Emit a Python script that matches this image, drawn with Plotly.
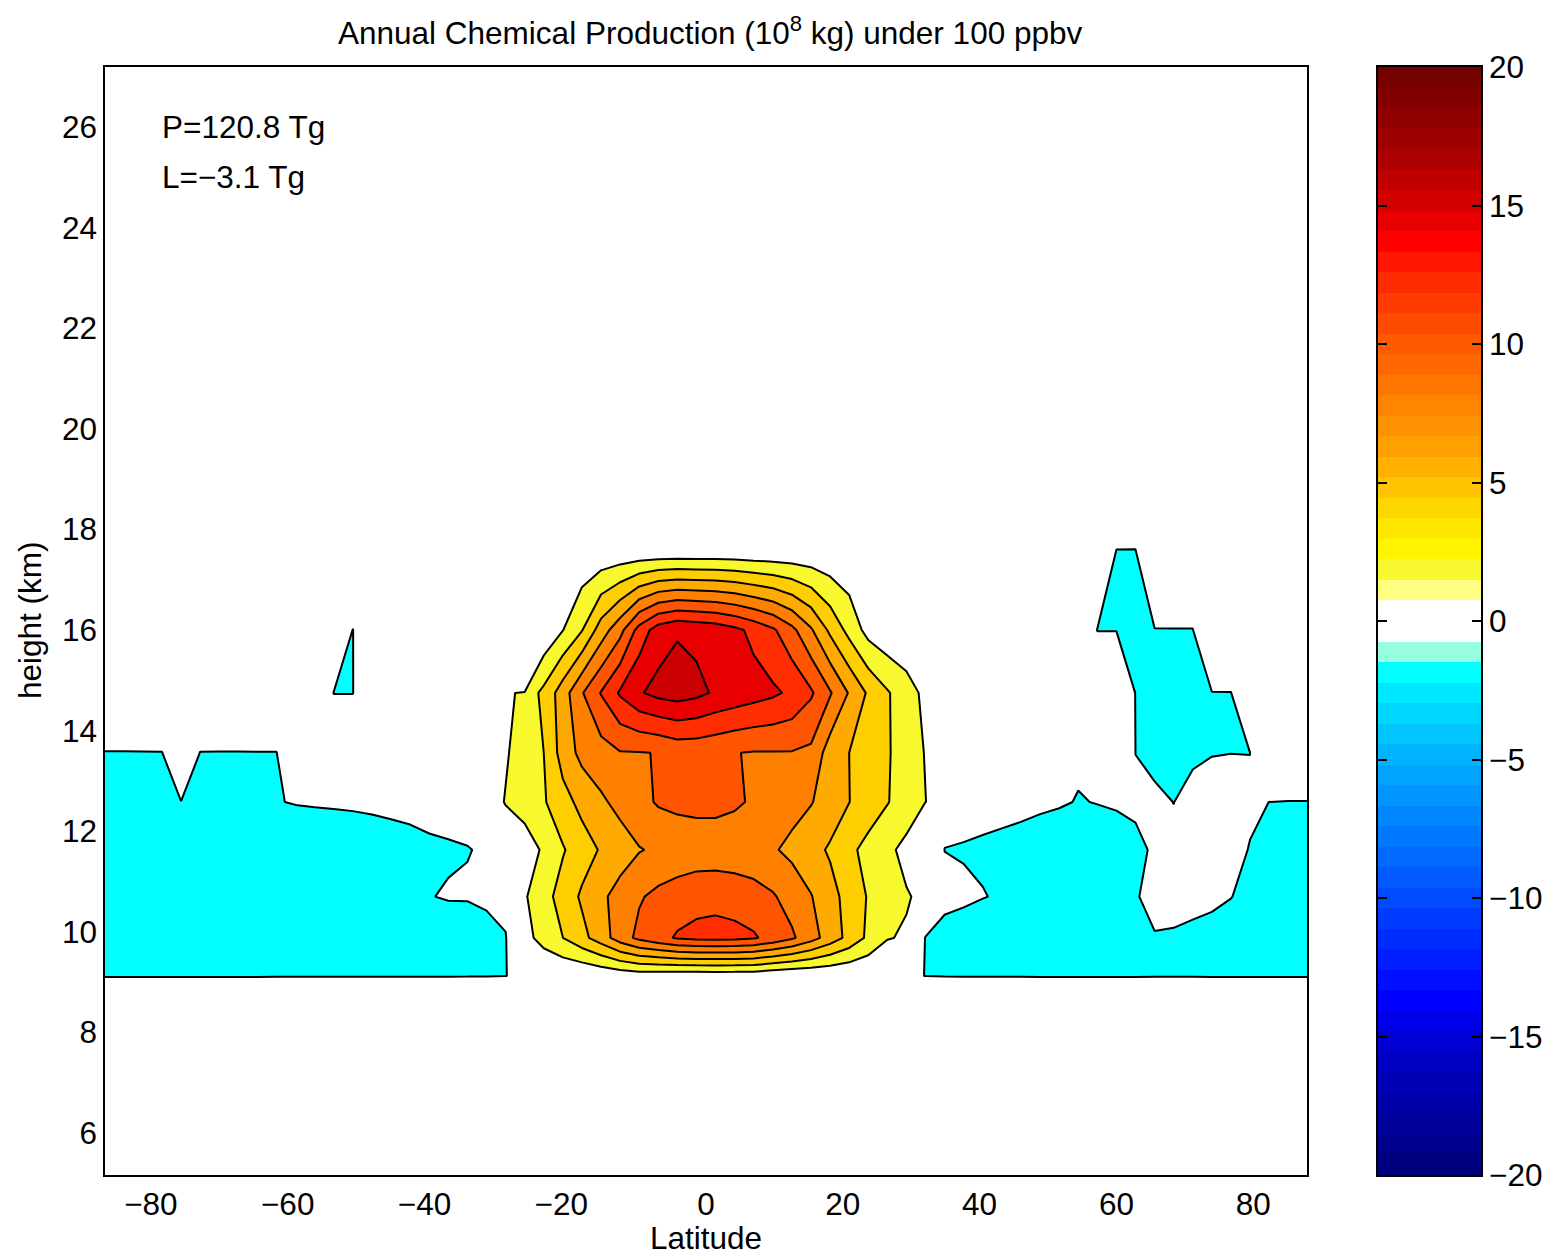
import numpy as np
import plotly.graph_objects as go

# ---------------------------------------------------------------------------
# Grid: T42 Gaussian latitudes (deg) and model level heights (km)
# ---------------------------------------------------------------------------
latitude = [-87.86, -85.10, -82.31, -79.53, -76.74, -73.95, -71.16, -68.37,
            -65.58, -62.79, -60.00, -57.21, -54.42, -51.63, -48.84, -46.04,
            -43.25, -40.46, -37.67, -34.88, -32.09, -29.30, -26.51, -23.72,
            -20.93, -18.14, -15.35, -12.56, -9.77, -6.98, -4.19, -1.40,
            1.40, 4.19, 6.98, 9.77, 12.56, 15.35, 18.14, 20.93,
            23.72, 26.51, 29.30, 32.09, 34.88, 37.67, 40.46, 43.25,
            46.04, 48.84, 51.63, 54.42, 57.21, 60.00, 62.79, 65.58,
            68.37, 71.16, 73.95, 76.74, 79.53, 82.31, 85.10, 87.86]

height_km = [8.30, 9.12, 9.88, 10.70, 11.63, 12.58, 13.56, 14.75, 16.00, 17.57, 19.30]

# Annual chemical production (1e8 kg) on each level; _ = no data on that cell
_ = None
prod_08_30 = [_] * 64
prod_09_12 = [-1.1, -1.2, -1.2, -1.3, -1.3, -1.2, -1.2, -1.1, -1.1, -1.0, -1.0, -1.0, -0.9, -0.9, -0.9, -0.8,
              -0.8, -0.8, -0.7, -0.6, -0.4, -0.05,
              0.7, 0.1, 0.1, 0.1, 0.4, 0.7, 0.9, 0.8, 0.7, 0.7, 0.7, 0.7, 0.7, 0.3, 0.1, 0.1, 0.1, 0.1, 0.1, 0.1, 0.6,
              -0.05, -0.5, -0.7, -0.9, -1.0, -1.0, -1.1, -1.1, -1.2, -1.2, -1.2, -1.1, -0.9, -0.9, -1.0, -1.1, -1.2,
              -1.2, -1.3, -1.3, -1.3]
prod_09_88 = [-1.3, -1.4, -1.4, -1.5, -1.5, -1.4, -1.4, -1.3, -1.3, -1.3, -1.2, -1.2, -1.2, -1.1, -1.1, -1.1,
              -1.0, -1.0, -1.0, -1.6, -0.6, -0.05,
              1.37, 2.71, 3.99, 5.41, 7.0, 9.0, 10.5, 11.4, 12.2, 12.5, 12.6, 12.5, 12.2, 11.4, 10.3, 8.8, 7.1, 5.4,
              3.6, 2.1, 1.82,
              -0.05, -1.27, -1.42, -1.9, -1.3, -1.3, -1.3, -1.2, -1.2, -1.2, -1.1, -1.1, -0.2, -0.32, -0.79, -1.7,
              -0.95, -1.2, -1.3, -1.4, -1.4]
prod_10_70 = [-1.4, -1.5, -1.5, -1.6, -1.6, -1.5, -1.5, -1.4, -1.4, -1.4, -1.3, -1.3, -1.3, -1.2, -1.2, -1.1, -0.9,
              -0.05, 0.11, 0.2, 0.31, 0.28,
              1.8, 3.26, 4.8, 6.3, 7.6, 8.74, 9.8, 10.5, 11.0, 11.4, 11.5, 11.3, 10.9, 10.2, 9.19, 8.1, 6.72, 5.25,
              3.85, 3.03, 2.14,
              1.6, 1.0, 0.5, 0.1, -0.27, -1.2, -1.3, -1.3, -1.3, -1.2, -1.0, -0.25, 1.0, 1.0, 1.0, 1.0, 0.05,
              -0.575, -1.2, -1.3, -1.4]
prod_11_63 = [-1.5, -1.6, -1.6, -1.7, -1.7, -1.6, -1.6, -1.5, -1.5, -1.4,
              -1.0, -1.0, -1.0, -1.0, -1.0, -1.0, -1.0,
              -0.6, -0.165, -0.07, 0.21, 0.6, 0.83,
              2.33, 3.83, 5.07, 6.19, 7.04, 7.89, 8.3, 8.6, 8.8, 8.8, 8.7, 8.5, 8.2, 7.54, 6.69, 5.75, 4.45, 3.38,
              2.42, 1.47,
              _, -0.042, -0.214, -0.376, -0.8, -1.0, -1.0, -1.0, -1.1, -0.84, -1.0, -1.33, 0.75, 1.0, 1.0, 1.0, 1.9,
              -0.27, -1.2, -1.3, -1.3]
prod_12_58 = [-1.3, -1.4, -1.3, -1.2, -0.9, -1.2, -1.3, -1.2, -1.1,
              -0.05, 0.064, 0.124, 0.17, 0.235, 0.35, 0.56, 0.89, 1.16, 0.585, 0.75, 1.0,
              2.1, 2.95, 3.81, 5.25, 6.59, 7.67, 8.58, 9.4, 10.2, 10.5, 10.6, 10.6, 10.3, 9.75, 9.2, 8.66, 8.11,
              7.13, 6.03, 5.08, 4.1, 3.09, 2.03,
              1.0, 1.12, 0.84, 0.98, 0.71, 0.34, 0.15, -0.064, 0.044, 0.22, 1.0, 1.0, -0.05, 1.55, 1.15, 1.0, 1.0,
              -0.02, -1.0, -1.1]
prod_13_56 = [-1.2, -1.2, -1.1, -0.9, _, -0.9, -1.0, -1.0, -0.9, -0.8,
              _, _, _, _, _, _, _, _, _, _, _,
              1.8, 2.9, 4.0, 6.85, 8.57, 9.2, 9.9, 9.93, 10.05, 10.6, 10.6, 10.4, 10.05, 9.9, 9.9, 9.9, 9.6, 7.0,
              6.0, 5.1, 4.2, 3.05, 1.9,
              _, _, _, _, _, _, _, 0.21, _, _, -0.042, -1.38, -1.0, -0.8, -0.1, -0.02, -0.05, _, _, _]
prod_14_75 = [_, _, _, _, _, _, _, _, _, _, _, _, -0.9, -1.0, _, _, _, _, _, _, _,
              1.23, 2.77, 4.49, 7.04, 9.85, 12.1, 14.26, 15.8, 16.6, 16.9, 16.5, 15.74, 15.28, 14.81, 14.34,
              13.64, 12.28, 10.2, 7.84, 5.72, 4.19, 2.89, 1.5,
              _, _, _, _, _, _, _, _, _, _, -1.0, -1.2, -1.1, -1.0, -0.9, -0.8, _, _, _, _]
prod_16_00 = [_, _, _, _, _, _, _, _, _, _, _, _, _, -0.8, _, _, _, _, _, _, _, _, _,
              0.3, 1.95, 3.9, 6.94, 9.36, 12.77, 15.0, 15.8, 15.5, 15.2, 14.5, 13.47, 12.31, 10.53, 8.24, 5.59,
              3.36, 1.3, 0.5, 0.3,
              _, _, _, _, _, _, _, _, _, -1.0, -1.1, -1.2, -1.1, -1.0, -0.9, _, _, _, _, _, _]
prod_17_57 = [_, _, _, _, _, _, _, _, _, _, _, _, _, _, _, _, _, _, _, _, _, _, _, _,
              0.3, 0.4, 0.4, 0.5, 0.5, 0.5, 0.5, 0.5, 0.5, 0.5, 0.4, 0.4, 0.4, 0.4, 0.3, 0.3, 0.3,
              _, _, _, _, _, _, _, _, _, _, _, _, -0.9, -1.0, _, _, _, _, _, _, _, _, _]
prod_19_30 = [_] * 64

production = [prod_08_30, prod_09_12, prod_09_88, prod_10_70, prod_11_63, prod_12_58,
              prod_13_56, prod_14_75, prod_16_00, prod_17_57, prod_19_30]
for row in production:
    assert len(row) == len(latitude)

prod = np.array(production, dtype=float)
NO_DATA = -50.0
loss_grid = np.where(np.isnan(prod), NO_DATA, -prod)   # >0 where net loss
gain_grid = np.where(np.isnan(prod), NO_DATA, prod)    # production field

# axis ticks
lat_ticks = [-80, -60, -40, -20, 0, 20, 40, 60, 80]
height_ticks = [6, 8, 10, 12, 14, 16, 18, 20, 22, 24, 26]
cbar_ticks = [-20, -15, -10, -5, 0, 5, 10, 15, 20]

# ---------------------------------------------------------------------------
# Styling
# ---------------------------------------------------------------------------
FONT = "Liberation Sans, Arial, Helvetica, sans-serif"
FS = 31.5
CLEAR = "rgba(255,255,255,0)"
W, H = 1562, 1255

band_colors = ["rgb(248,248,46)", "rgb(255,206,0)", "rgb(255,170,0)", "rgb(255,128,0)",
               "rgb(255,85,0)", "rgb(255,45,0)", "rgb(232,0,0)", "rgb(204,0,0)"]
gain_scale = [[0, CLEAR], [0.0625, CLEAR]]
for k, c in enumerate(band_colors):
    lo = 0.0625 + 0.125 * k
    gain_scale += [[lo, c], [min(lo + 0.125, 1.0), c]]

loss_scale = [[0, CLEAR], [0.25, CLEAR], [0.25, "rgb(0,255,255)"], [1, "rgb(0,255,255)"]]

# colour bar palette (value -> colour)
cb_anchor_vals = [-20, -15, -13.7, -10, -5, -2.6, -1.85, -1.11, -0.37, 0.37, 1.11, 1.85, 2.6, 3.33,
                  4.07, 5, 6, 8, 10, 12, 13.7, 15, 17, 20]
cb_anchor_cols = ["rgb(0,0,120)", "rgb(0,0,215)", "rgb(0,0,255)", "rgb(0,75,255)", "rgb(0,175,255)",
                  "rgb(0,232,255)", "rgb(0,255,255)", "rgb(150,255,225)", "rgb(255,255,255)",
                  "rgb(255,255,255)", "rgb(255,255,130)", "rgb(248,248,48)", "rgb(255,245,0)",
                  "rgb(255,232,0)", "rgb(255,215,0)", "rgb(255,190,0)", "rgb(255,165,0)",
                  "rgb(255,128,0)", "rgb(255,90,0)", "rgb(255,50,0)", "rgb(255,0,0)", "rgb(215,0,0)",
                  "rgb(165,0,0)", "rgb(110,0,0)"]
cb_scale = [[(v + 20) / 40, c] for v, c in zip(cb_anchor_vals, cb_anchor_cols)]
n_bands = 54
cb_centers = -20 + (np.arange(n_bands) + 0.5) * 40 / n_bands

fig = go.Figure()

# net loss regions
fig.add_trace(go.Contour(
    x=latitude, y=height_km, z=loss_grid, autocontour=False,
    contours=dict(start=0, end=5, size=5, coloring="fill", showlines=True),
    colorscale=loss_scale, line=dict(color="black", width=2, smoothing=0),
    showscale=False, hoverinfo="skip"))

# production regions
fig.add_trace(go.Contour(
    x=latitude, y=height_km, z=gain_grid, autocontour=False,
    contours=dict(start=2, end=16, size=2, coloring="fill", showlines=True),
    colorscale=gain_scale, line=dict(color="black", width=2, smoothing=0),
    showscale=False, hoverinfo="skip"))

# colour bar drawn as a banded strip
fig.add_trace(go.Heatmap(
    x=[0], y=cb_centers, z=[[v] for v in cb_centers], zmin=-20, zmax=20,
    colorscale=cb_scale, showscale=False, xaxis="x2", yaxis="y2", hoverinfo="skip"))

ydom = [(H - 1175) / H, (H - 67) / H]
axis_common = dict(showline=True, linecolor="black", linewidth=1.5, showgrid=False,
                   zeroline=False, automargin=False,
                   tickfont=dict(family=FONT, size=FS, color="black"))

# negative latitude labels carry a trailing en space so the digits sit over the tick
lat_text = [("\u2212%d\u2002" % -v) if v < 0 else str(v) for v in lat_ticks]


def label(text, x, y, **kw):
    d = dict(text=text, xref="paper", yref="paper", x=x / W, y=1 - y / H, showarrow=False,
             xanchor="center", yanchor="middle", font=dict(family=FONT, size=FS, color="black"))
    d.update(kw)
    return d


fig.update_layout(
    width=W, height=H, autosize=False,
    margin=dict(l=0, r=0, t=0, b=0, pad=0, autoexpand=False),
    paper_bgcolor="white", plot_bgcolor="white", showlegend=False,
    font=dict(family=FONT, size=FS, color="black"),
    xaxis=dict(domain=[105 / W, 1307 / W], range=[-87.86, 87.86],
               tickvals=lat_ticks, ticktext=lat_text, ticks="", mirror=True, **axis_common),
    yaxis=dict(domain=ydom, range=[5.165, 27.193],
               tickvals=height_ticks, ticks="", mirror=True, **axis_common),
    xaxis2=dict(domain=[1378 / W, 1481 / W], range=[-0.5, 0.5], anchor="y2",
                showticklabels=False, ticks="", mirror=True, **axis_common),
    yaxis2=dict(domain=ydom, range=[-20, 20], anchor="x2", side="right",
                tickvals=cbar_ticks, ticks="inside", ticklen=9,
                tickcolor="black", tickwidth=1.5, mirror="ticks", **axis_common),
    annotations=[
        label("Annual Chemical Production (10<sup>8</sup> kg) under 100 ppbv", 710, 31),
        label("Latitude", 706, 1238),
        label("height (km)", 30, 620, textangle=-90),
        label("P=120.8 Tg", 160, 127, xanchor="left"),
        label("L=\u22123.1 Tg", 160, 177, xanchor="left"),
    ],
)

fig.write_html("out.html")
